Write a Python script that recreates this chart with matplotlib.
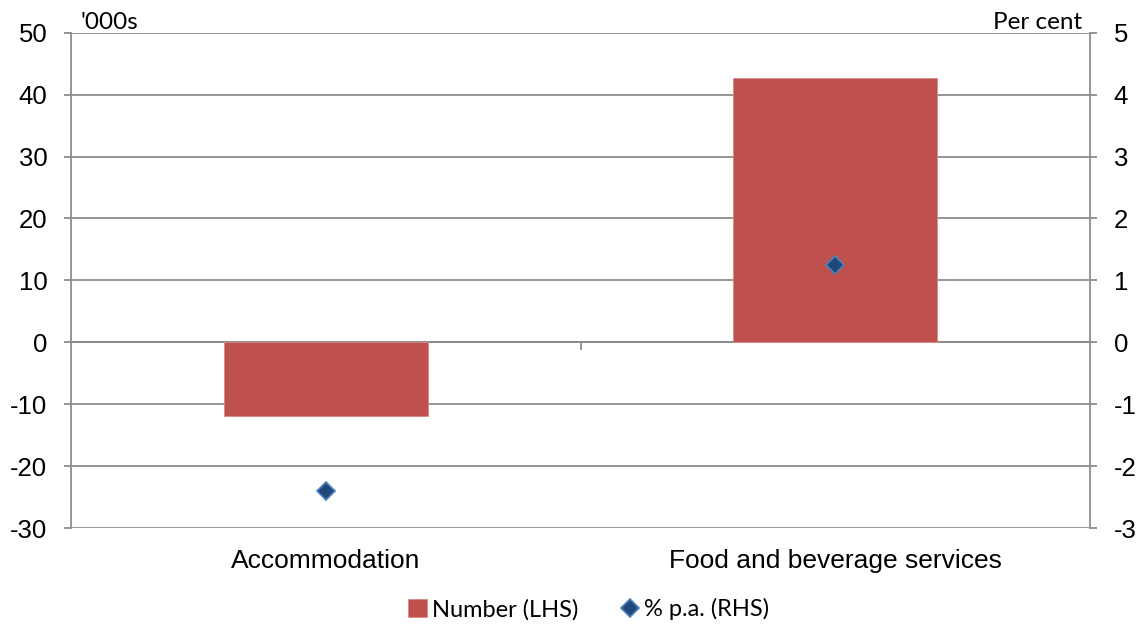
import matplotlib.pyplot as plt
import numpy as np

categories = ['Accommodation', 'Food and beverage services']
number_lhs = [-11.9, 42.6]      # '000s
pct_rhs = [-2.4, 1.25]          # per cent p.a.

left_ticks = [-30, -20, -10, 0, 10, 20, 30, 40, 50]
right_ticks = [-3, -2, -1, 0, 1, 2, 3, 4, 5]

grid_col = '#8c8c8c'
bar_col = '#C0504D'
num_font = 'Liberation Sans'
lab_font = 'Lato'

fig = plt.figure(figsize=(11.45, 6.28), dpi=100)
ax = fig.add_axes([0.062, 0.159, 0.890, 0.789])

x = np.arange(len(categories))
ax.bar(x, number_lhs, width=0.4, color=bar_col, edgecolor='#d88a88',
       linewidth=0.6, zorder=3, label='Number (LHS)')

ax.set_xlim(-0.5, 1.5)
ax.set_ylim(-30, 50)
ax.set_yticks(left_ticks)
ax.set_yticklabels([str(v) for v in left_ticks], fontsize=18.5, family=num_font)
ax.yaxis.grid(True, color=grid_col, linewidth=1.3, zorder=0)
ax.set_axisbelow(True)
ax.tick_params(axis='y', direction='out', length=5, width=1.3, color=grid_col, pad=12)

# category axis crosses at zero, tick between categories
ax.spines['bottom'].set_position(('data', 0))
ax.spines['bottom'].set_color(grid_col)
ax.spines['bottom'].set_linewidth(1.3)
ax.set_xticks([])
ax.set_xticks([0.5], minor=True)
ax.tick_params(axis='x', which='minor', direction='out', length=6, width=1.3, color=grid_col)
ax.spines['top'].set_visible(False)
ax.spines['right'].set_visible(False)
ax.spines['left'].set_color(grid_col)
ax.spines['left'].set_linewidth(1.3)

# category labels along the bottom
sec = ax.secondary_xaxis('bottom')
sec.set_xticks(x)
sec.set_xticklabels(categories, fontsize=19, family=num_font)
sec.tick_params(length=0, pad=15)
sec.spines['bottom'].set_visible(False)

ax2 = ax.twinx()
ax2.set_ylim(-3, 5)
ax2.set_yticks(right_ticks)
ax2.set_yticklabels([str(v) for v in right_ticks], fontsize=18.5, family=num_font)
ax2.tick_params(axis='y', direction='out', length=5, width=1.3, color=grid_col, pad=12)
for s in ['top', 'left', 'bottom']:
    ax2.spines[s].set_visible(False)
ax2.spines['right'].set_color(grid_col)
ax2.spines['right'].set_linewidth(1.3)
ax2.plot(x, pct_rhs, linestyle='none', marker='D', markersize=9,
         markerfacecolor='#1F497D', markeredgecolor='#4F81BD', markeredgewidth=1.2,
         zorder=4, label='% p.a. (RHS)')

ax.text(0.009, 1.0, "'000s", transform=ax.transAxes, ha='left', va='bottom',
        fontsize=17.5, family=lab_font)
ax.text(0.992, 1.0, 'Per cent', transform=ax.transAxes, ha='right', va='bottom',
        fontsize=17.5, family=lab_font)

h1, l1 = ax.get_legend_handles_labels()
h2, l2 = ax2.get_legend_handles_labels()
fig.legend(h1 + h2, l1 + l2, loc='center', bbox_to_anchor=(0.514, 0.03), ncol=2,
           frameon=False, prop={'family': lab_font, 'size': 17},
           handlelength=0.8, handleheight=0.8, handletextpad=0.2, columnspacing=1.8)

fig.savefig('out.png', dpi=100)
